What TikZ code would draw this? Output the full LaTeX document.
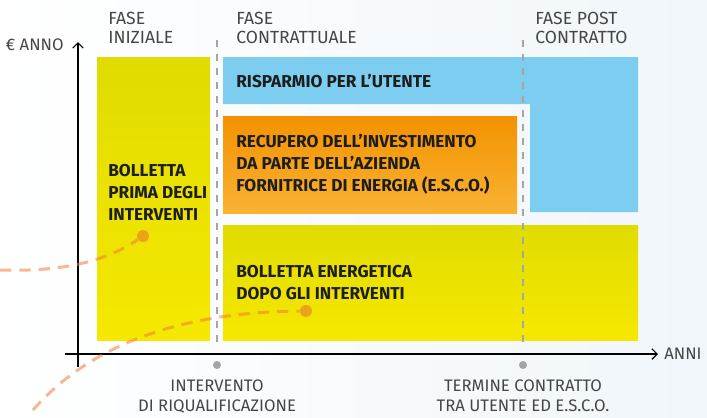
\documentclass[tikz,border=0pt]{standalone}
\usepackage{fontspec}
\setmainfont{Fira Sans}
\usetikzlibrary{positioning,arrows.meta}

\definecolor{giallo}{RGB}{246,232,0}
\definecolor{giallos}{RGB}{224,220,0}
\definecolor{azzurro}{RGB}{125,205,240}
\definecolor{arancio}{RGB}{243,146,0}
\definecolor{arancioc}{RGB}{249,178,51}
\definecolor{curva}{RGB}{240,125,60}
\definecolor{puntino}{RGB}{237,162,27}
\definecolor{grigio}{RGB}{165,165,165}
\definecolor{testo}{RGB}{70,70,70}
\definecolor{nero}{RGB}{29,29,27}
\definecolor{sfondo}{RGB}{240,246,250}

\begin{document}
\begin{tikzpicture}
	[x=0.02cm,y=-0.02cm,
	fase/.style={align=left,anchor=north west,inner sep=0pt,text=testo,
		font=\fontsize{10}{10.8}\selectfont},
	voce/.style={align=left,anchor=west,inner sep=0pt,text=nero,
		font=\bfseries\fontsize{9.8}{12.5}\selectfont},
	evento/.style={align=center,inner sep=0pt,text=testo,
		font=\fontsize{9.5}{11.4}\selectfont},
	guida/.style={grigio,line width=0.7pt,dash pattern=on 4pt off 4pt},
	asse/.style={line width=0.7pt,-{Straight Barb[length=3pt,width=6pt]}},
	percorso/.style={curva,opacity=0.55,line width=1.7pt,dash pattern=on 6.5pt off 4.5pt},
	tappa/.style={circle,fill=grigio,inner sep=0pt,minimum size=0.16cm},
	meta/.style={circle,fill=puntino,inner sep=0pt,minimum size=0.24cm}]
	
	\useasboundingbox (0,0) rectangle (707,417);
	\fill[left color=white,right color=sfondo] (0,0) rectangle (707,417);
	
	% blocchi
	\fill[top color=giallos,bottom color=giallo] (97,57) rectangle (210,340);
	\fill[top color=giallos,bottom color=giallo] (223,225) rectangle (638,340);
	\fill[top color=arancio,bottom color=arancioc] (223,116) rectangle (517,213);
	\fill[azzurro] (223,57) -- (638,57) -- (638,212) -- (530,212)
		-- (530,104) -- (223,104) -- cycle;
	
	% fasi
	\node[tappa] (riqual) at (217,365) {};
	\node[tappa] (termine) at (523,365) {};
	\coordinate (inizio1) at (217,40);
	\coordinate (inizio2) at (523,40);
	\draw[guida,shorten >=0.24cm] (inizio1) -- (riqual);
	\draw[guida,shorten >=0.24cm] (inizio2) -- (termine);
	
	% assi
	\coordinate (origx) at (65,354);
	\coordinate (finex) at (658,354);
	\coordinate (origy) at (78,367);
	\coordinate (finey) at (78,42);
	\draw[asse] (origx) -- (finex);
	\draw[asse] (origy) -- (finey);
	\node[anchor=east,inner sep=0pt,text=testo,font=\fontsize{9.5}{11}\selectfont]
		(euro) at (64,45) {€ ANNO};
	\node[anchor=west,inner sep=0pt,text=testo,font=\fontsize{9.5}{11}\selectfont]
		(anni) at (664,354) {ANNI};
	
	% percorsi
	\node[meta] (prima) at (143,236) {};
	\node[meta] (dopo) at (306,311) {};
	\coordinate (bordo1) at (0,270);
	\coordinate (bordo2) at (33,410);
	\draw[percorso] (bordo1) .. controls (60,272) and (105,262) .. (prima);
	\draw[percorso] (bordo2) .. controls (90,345) and (180,312) .. (dopo);
	
	% testi
	\node[fase] (fini) at (108,12) {FASE\\INIZIALE};
	\node[fase] (fcontr) at (236,12) {FASE\\CONTRATTUALE};
	\node[fase] (fpost) at (535,12) {FASE POST\\CONTRATTO};
	
	\node[voce] (risparmio) at (236,81) {RISPARMIO PER L’UTENTE};
	\node[voce] (recupero) at (236,164)
		{RECUPERO DELL’INVESTIMENTO\\DA PARTE DELL’AZIENDA\\FORNITRICE DI ENERGIA (E.S.C.O.)};
	\node[voce] (bprima) at (108,192) {BOLLETTA\\PRIMA DEGLI\\INTERVENTI};
	\node[voce] (bdopo) at (236,283) {BOLLETTA ENERGETICA\\DOPO GLI INTERVENTI};
	
	\node[evento,below=0.2cm of riqual] (tinterv) {INTERVENTO\\DI RIQUALIFICAZIONE};
	\node[evento,below=0.2cm of termine] (ttermine) {TERMINE CONTRATTO\\TRA UTENTE ED E.S.C.O.};
	
\end{tikzpicture}
\end{document}
